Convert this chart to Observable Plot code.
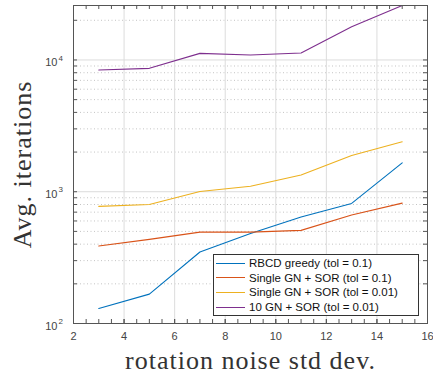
<!DOCTYPE html>
<html>
<head>
<meta charset="utf-8">
<script src="https://cdn.jsdelivr.net/npm/d3@7"></script>
<script src="https://cdn.jsdelivr.net/npm/@observablehq/plot@0.6"></script>
<style>
  body { margin: 0; background: #fff; }
  #chart { position: relative; width: 433px; height: 375px; }
  #chart g[font-family*="Serif"] { letter-spacing: 1px; }
  .legend {
    position: absolute; left: 213px; top: 254px; width: 206px; height: 62px;
    box-sizing: border-box; border: 1px solid #333; background: #fff;
    font: 11.5px "Liberation Sans", Arial, sans-serif; color: #111; padding-top: 1px;
  }
  .legend .row { display: flex; align-items: center; height: 14.6px; white-space: nowrap; }
  .legend .sw { width: 29px; height: 0; border-top: 1.2px solid; margin: 0 4px 0 2px; }
</style>
</head>
<body>
<div id="chart"></div>
<script>
// Rotation noise standard deviation (x) and average iteration counts per method
const noiseStd = [3, 5, 7, 9, 11, 13, 15];
const rbcdGreedy = [130, 167, 349, 482, 642, 815, 1655];
const singleGnTol01 = [387, 435, 494, 494, 509, 665, 819];
const singleGnTol001 = [774, 801, 1003, 1102, 1340, 1884, 2392];
const tenGnTol001 = [8400, 8640, 11220, 10900, 11300, 17870, 25900];

const seriesNames = [
  "RBCD greedy (tol = 0.1)",
  "Single GN + SOR (tol = 0.1)",
  "Single GN + SOR (tol = 0.01)",
  "10 GN + SOR (tol = 0.01)"
];
const seriesValues = [rbcdGreedy, singleGnTol01, singleGnTol001, tenGnTol001];
const seriesColors = ["#0072BD", "#D95319", "#EDB120", "#7E2F8E"];

// Axis ticks
const xTicks = [2, 4, 6, 8, 10, 12, 14, 16];
const xMinorTicks = d3.range(2.5, 16, 0.5);
const yMajor = [100, 1000, 10000];
const yMinor = [200, 300, 400, 500, 600, 700, 800, 900,
                2000, 3000, 4000, 5000, 6000, 7000, 8000, 9000, 20000];
const yMax = 25900;

const rows = seriesNames.flatMap((name, i) =>
  noiseStd.map((x, j) => ({series: name, x, y: seriesValues[i][j]}))
);

const W = 433, H = 375;
const mL = 73, mR = 6, mT = 5, mB = 52;
const plotW = W - mL - mR, plotH = H - mT - mB;
const tickLen = 4;
const axisColor = "#555";
const labelColor = "#444";
const serif = "'Liberation Serif', serif";

const chart = Plot.plot({
  width: W,
  height: H,
  marginLeft: mL,
  marginRight: mR,
  marginTop: mT,
  marginBottom: mB,
  style: {fontFamily: "'Liberation Sans', Arial, sans-serif", fontSize: "11px", color: labelColor, background: "#fff"},
  x: {domain: [2, 16], axis: null},
  y: {type: "log", domain: [100, yMax], axis: null},
  color: {domain: seriesNames, range: seriesColors},
  marks: [
    // grid: dotted minor, solid major
    Plot.ruleY(yMinor, {stroke: "#c4c4c4", strokeDasharray: "1,2.5"}),
    Plot.ruleX(xTicks, {stroke: "#dcdcdc"}),
    Plot.ruleY(yMajor, {stroke: "#dcdcdc"}),
    // data lines
    Plot.line(rows, {x: "x", y: "y", stroke: "series", strokeWidth: 1.1}),
    // axes box
    Plot.frame({stroke: axisColor}),
    // inward ticks on all four sides
    Plot.tickX([...xTicks, ...xMinorTicks], {x: d => d, stroke: axisColor, insetTop: plotH - tickLen}),
    Plot.tickX([...xTicks, ...xMinorTicks], {x: d => d, stroke: axisColor, insetBottom: plotH - tickLen}),
    Plot.tickY([...yMajor, ...yMinor], {y: d => d, stroke: axisColor, insetRight: plotW - tickLen}),
    Plot.tickY([...yMajor, ...yMinor], {y: d => d, stroke: axisColor, insetLeft: plotW - tickLen}),
    // x tick labels
    Plot.text(xTicks, {x: d => d, frameAnchor: "bottom", lineAnchor: "middle", dy: 13, text: d => String(d), fill: labelColor, fontSize: 11}),
    // y tick labels as 10 with superscript exponent
    Plot.text(yMajor, {y: d => d, frameAnchor: "left", lineAnchor: "middle", dx: -16, dy: 3, text: () => "10", textAnchor: "end", fill: labelColor, fontSize: 11}),
    Plot.text(yMajor, {y: d => d, frameAnchor: "left", lineAnchor: "middle", dx: -15, dy: -2, text: d => String(Math.round(Math.log10(d))), textAnchor: "start", fill: labelColor, fontSize: 8}),
    // axis titles
    Plot.text(["rotation noise std dev."], {frameAnchor: "bottom", lineAnchor: "middle", textAnchor: "middle", dy: 37, text: d => d, fontFamily: serif, fontSize: 26, fill: "#333"}),
    Plot.text(["Avg. iterations"], {frameAnchor: "left", lineAnchor: "middle", textAnchor: "middle", dx: -51, text: d => d, rotate: -90, fontFamily: serif, fontSize: 26, fill: "#333"})
  ]
});

const container = document.getElementById("chart");
container.appendChild(chart);

// legend box inside the plot area
const legend = document.createElement("div");
legend.className = "legend";
seriesNames.forEach((name, i) => {
  const row = document.createElement("div");
  row.className = "row";
  const sw = document.createElement("span");
  sw.className = "sw";
  sw.style.borderTopColor = seriesColors[i];
  const label = document.createElement("span");
  label.textContent = name;
  row.appendChild(sw);
  row.appendChild(label);
  legend.appendChild(row);
});
container.appendChild(legend);
</script>
</body>
</html>
